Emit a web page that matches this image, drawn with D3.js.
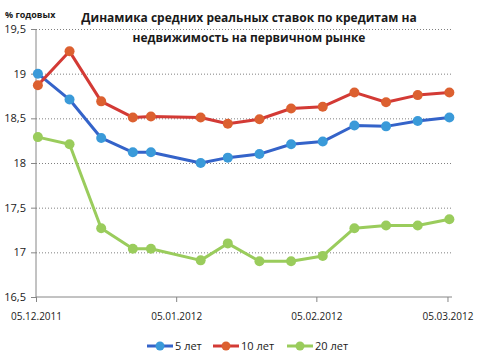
<!DOCTYPE html>
<html>
<head>
<meta charset="utf-8">
<script src="https://cdn.jsdelivr.net/npm/d3@7"></script>
<style>
  body { margin: 0; background: #fff; }
  svg text { font-family: "Open Sans", "Noto Sans", sans-serif; fill: #1a1a1a; }
  .grid line { stroke: #808080; stroke-dasharray: 1,2; }
  .axis path, .axis line { stroke: #868686; }
</style>
</head>
<body>
<div id="container"></div>
<script>
const dates = ['2011-12-05', '2011-12-12', '2011-12-19', '2011-12-26', '2011-12-30',
  '2012-01-10', '2012-01-16', '2012-01-23', '2012-01-30', '2012-02-06',
  '2012-02-13', '2012-02-20', '2012-02-27', '2012-03-05'];
const years5 = [19.00, 18.71, 18.28, 18.12, 18.12, 18.00, 18.06, 18.10, 18.21, 18.24, 18.42, 18.41, 18.47, 18.51];
const years10 = [18.87, 19.25, 18.69, 18.51, 18.52, 18.51, 18.44, 18.49, 18.61, 18.63, 18.79, 18.68, 18.76, 18.79];
const years20 = [18.29, 18.21, 17.27, 17.04, 17.04, 16.91, 17.10, 16.90, 16.90, 16.96, 17.27, 17.30, 17.30, 17.37];
const xTicks = ['2011-12-05', '2012-01-05', '2012-02-05', '2012-03-05'];
const yTicks = [16.5, 17, 17.5, 18, 18.5, 19, 19.5];

const parse = d3.timeParse('%Y-%m-%d');
const series = [
  { name: '5 лет', values: years5, line: '#3463c9', dot: '#3a9ad9' },
  { name: '10 лет', values: years10, line: '#d33a35', dot: '#dc6030' },
  { name: '20 лет', values: years20, line: '#9acc5c', dot: '#9acc5c' }
];

const width = 477;
const height = 362;
const plot = { left: 36, right: 452, top: 29, bottom: 297 };

const svg = d3.select('#container').append('svg')
  .attr('width', width)
  .attr('height', height);

const x = d3.scaleTime()
  .domain([parse('2011-12-05'), parse('2012-03-06')])
  .range([plot.left, plot.right]);

const y = d3.scaleLinear()
  .domain([16.5, 19.5])
  .range([plot.bottom, plot.top]);

// points sit in the middle of their day
const xPoint = i => x(d3.timeHour.offset(parse(dates[i]), 10));

// horizontal grid lines
svg.append('g')
  .attr('class', 'grid')
  .attr('transform', `translate(${plot.left},0)`)
  .call(d3.axisRight(y).tickValues(yTicks.slice(1)).tickSize(plot.right - plot.left).tickFormat(''))
  .call(g => g.select('.domain').remove());

svg.append('g')
  .attr('class', 'axis')
  .attr('transform', `translate(${plot.left},0)`)
  .call(d3.axisLeft(y).tickValues(yTicks).tickSize(5).tickPadding(5)
    .tickFormat(d => String(d).replace('.', ',')))
  .call(g => g.select('.domain').attr('d', `M0,${plot.top}V${plot.bottom}`))
  .selectAll('text')
  .style('font-size', '11px');

svg.append('g')
  .attr('class', 'axis')
  .attr('transform', `translate(0,${plot.bottom})`)
  .call(d3.axisBottom(x).tickValues(xTicks.map(parse)).tickSize(5).tickPadding(11)
    .tickFormat(d3.timeFormat('%d.%m.%Y')))
  .call(g => g.select('.domain').attr('d', `M${plot.left},0H${plot.right}`))
  .selectAll('text')
  .style('font-size', '10px');

const line = d3.line()
  .x((d, i) => xPoint(i))
  .y(d => y(d));

series.forEach(s => {
  svg.append('path')
    .attr('d', line(s.values))
    .attr('fill', 'none')
    .attr('stroke', s.line)
    .attr('stroke-width', 3)
    .attr('stroke-linejoin', 'round');
  svg.selectAll(null)
    .data(s.values)
    .enter()
    .append('circle')
    .attr('cx', (d, i) => xPoint(i))
    .attr('cy', d => y(d))
    .attr('r', 5)
    .attr('fill', s.dot);
});

svg.append('text')
  .attr('x', 5)
  .attr('y', 18)
  .style('font-size', '9px')
  .style('font-weight', 'bold')
  .text('% годовых');

svg.append('text')
  .attr('x', 249)
  .attr('y', 22)
  .attr('text-anchor', 'middle')
  .style('font-size', '12px')
  .style('font-weight', 'bold')
  .text('Динамика средних реальных ставок по кредитам на');

svg.append('text')
  .attr('x', 249)
  .attr('y', 42)
  .attr('text-anchor', 'middle')
  .style('font-size', '12px')
  .style('font-weight', 'bold')
  .text('недвижимость на первичном рынке');

// legend
const legendX = [147, 213, 287];
const legend = svg.selectAll('.legend')
  .data(series)
  .enter()
  .append('g')
  .attr('class', 'legend')
  .attr('transform', (d, i) => `translate(${legendX[i]},346)`);

legend.append('line')
  .attr('x1', 0).attr('x2', 26)
  .attr('stroke', d => d.line)
  .attr('stroke-width', 3);

legend.append('circle')
  .attr('cx', 13)
  .attr('r', 4.5)
  .attr('fill', d => d.dot);

legend.append('text')
  .attr('x', 28)
  .attr('dy', '0.35em')
  .style('font-size', '11px')
  .text(d => d.name);
</script>
</body>
</html>
